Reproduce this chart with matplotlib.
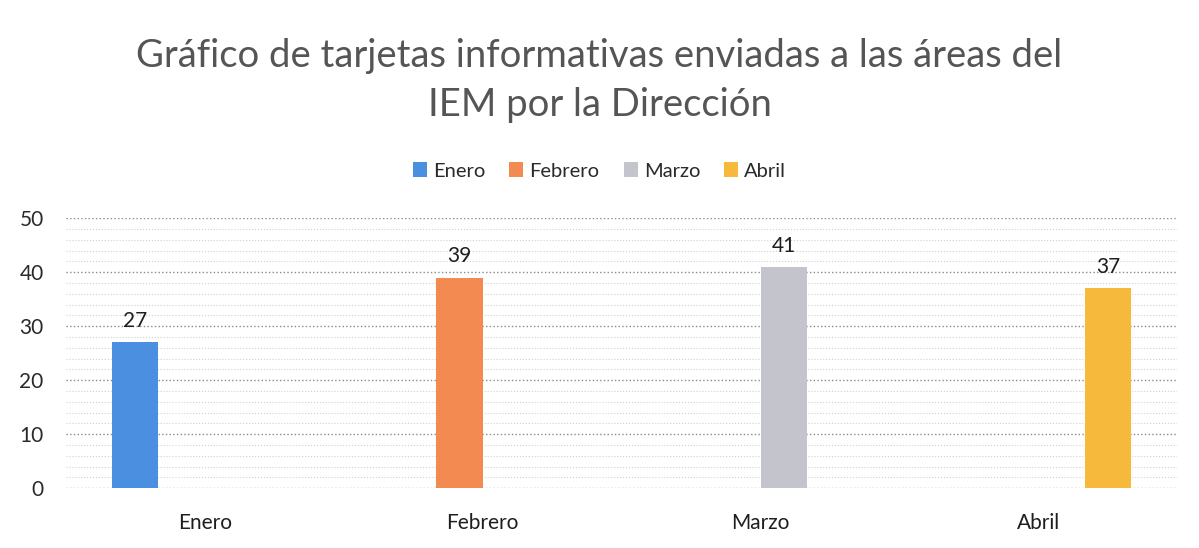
import matplotlib
matplotlib.use('Agg')
import matplotlib.pyplot as plt
import numpy as np

meses = ['Enero', 'Febrero', 'Marzo', 'Abril']
valores = [27, 39, 41, 37]
colores = ['#4a8fe0', '#f28a52', '#c4c4cc', '#f7b93c']
titulo = 'Gráfico de tarjetas informativas enviadas a las áreas del\nIEM por la Dirección'

plt.rcParams['font.family'] = ['Lato', 'DejaVu Sans']

fig = plt.figure(figsize=(11.99, 5.48), dpi=100)
ax = fig.add_axes([0.055, 0.109, 0.927, 0.493])

# clustered layout: each series only has a value in its own month
n = len(meses)
w = 0.167
x = np.arange(n)
for i, (m, v, c) in enumerate(zip(meses, valores, colores)):
    xi = x[i] + (i - (n - 1) / 2) * w
    ax.bar(xi, v, w, color=c, label=m, zorder=3)
    ax.annotate(str(v), (xi, v), xytext=(0, 8), textcoords='offset points',
                ha='center', va='bottom', fontsize=15, color='#1e1e1e')

ax.set_xlim(-0.5, n - 0.5)
ax.set_ylim(0, 50)
ax.set_yticks(range(0, 51, 10))
ax.set_yticks(range(0, 51, 2), minor=True)
ax.set_xticks(x)
ax.set_xticklabels(meses)
ax.tick_params(axis='x', length=0, pad=18, labelsize=15, labelcolor='#1e1e1e')
ax.tick_params(axis='y', which='both', length=0, pad=16, labelsize=15, labelcolor='#2a2a2a')
ax.grid(True, axis='y', which='major', color='#8a8a8a', linestyle=':', linewidth=1.0, zorder=0)
ax.grid(True, axis='y', which='minor', color='#d0d0d0', linestyle=':', linewidth=0.8, zorder=0)
for s in ax.spines.values():
    s.set_visible(False)

fig.text(0.5, 0.93, titulo, ha='center', va='top', fontsize=27.5, color='#555555',
         linespacing=1.42)
fig.legend(loc='center', bbox_to_anchor=(0.5, 0.688), ncol=4, frameon=False,
           fontsize=14.5, handlelength=0.7, handleheight=0.7, handletextpad=0.3,
           columnspacing=1.2, labelcolor='#2a2a2a')

fig.savefig('out.png', dpi=100)
